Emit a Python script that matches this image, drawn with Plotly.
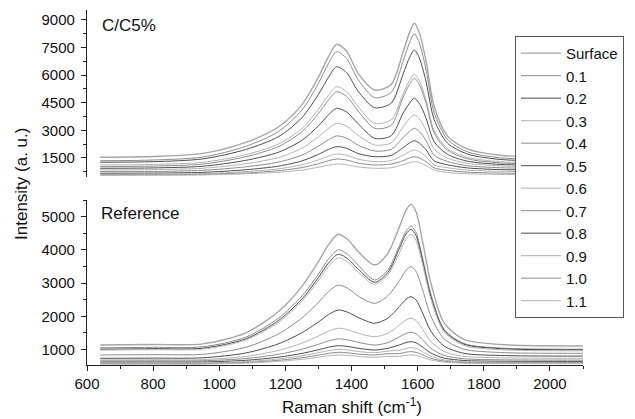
import plotly.graph_objects as go

# ---------------- data ----------------
labels = ["Surface", "0.1", "0.2", "0.3", "0.4", "0.5", "0.6", "0.7", "0.8", "0.9", "1.0", "1.1"]
colors = ["#a6a6a6", "#8c8c8c", "#4d4d4d", "#b3b3b3", "#8c8c8c", "#4d4d4d",
          "#b3b3b3", "#8c8c8c", "#4d4d4d", "#b3b3b3", "#8c8c8c", "#b3b3b3"]

# C/C5% panel (Raman shift, cm-1)
x_c5 = [640, 800, 950, 1080, 1180, 1250, 1300, 1330, 1355, 1385, 1420, 1470, 1520,
        1555, 1575, 1590, 1605, 1625, 1650, 1690, 1750, 1850, 2100]
c5_surface = [1540, 1580, 1750, 2350, 3200, 4400, 5900, 7000, 7680, 7300, 6100, 5195, 5500, 7200, 8300, 8820, 8300, 6800, 4300, 2700, 2000, 1650, 1540]
c5_01 = [1350, 1390, 1550, 2130, 2950, 4110, 5560, 6620, 7280, 6910, 5760, 4780, 5070, 6700, 7750, 8240, 7750, 6330, 3960, 2510, 1840, 1510, 1410]
c5_02 = [1270, 1300, 1450, 1960, 2670, 3690, 4960, 5880, 6460, 6140, 5130, 4235, 4480, 6010, 6940, 7370, 6940, 5680, 3580, 2310, 1720, 1420, 1330]
c5_03 = [1120, 1150, 1265, 1680, 2270, 3100, 4140, 4900, 5375, 5110, 4280, 3385, 3570, 4950, 5700, 6050, 5700, 4680, 2990, 2020, 1540, 1300, 1225]
c5_04 = [1030, 1060, 1170, 1570, 2130, 2930, 3920, 4650, 5100, 4850, 4050, 3110, 3280, 4760, 5490, 5830, 5490, 4500, 2850, 1930, 1460, 1230, 1155]
c5_05 = [940, 960, 1050, 1370, 1820, 2460, 3250, 3840, 4200, 4000, 3360, 2570, 2710, 3900, 4470, 4745, 4470, 3690, 2380, 1700, 1330, 1150, 1080]
c5_06 = [850, 870, 940, 1185, 1530, 2030, 2650, 3100, 3385, 3230, 2730, 2205, 2320, 3170, 3630, 3840, 3630, 3010, 1980, 1500, 1210, 1070, 1010]
c5_07 = [760, 770, 830, 1020, 1280, 1660, 2140, 2490, 2700, 2580, 2200, 1880, 1970, 2590, 2940, 3110, 2940, 2460, 1650, 1310, 1080, 970, 920]
c5_08 = [670, 680, 720, 860, 1060, 1340, 1700, 1960, 2115, 2030, 1740, 1570, 1640, 2050, 2310, 2440, 2310, 1950, 1340, 1130, 960, 870, 830]
c5_09 = [615, 620, 650, 760, 910, 1130, 1400, 1600, 1720, 1650, 1440, 1300, 1360, 1640, 1840, 1935, 1840, 1570, 1120, 970, 840, 780, 740]
c5_10 = [580, 590, 610, 690, 810, 980, 1190, 1350, 1445, 1390, 1220, 1120, 1170, 1350, 1500, 1570, 1500, 1300, 960, 830, 730, 680, 650]
c5_11 = [560, 565, 580, 640, 725, 845, 1000, 1105, 1175, 1135, 1015, 940, 970, 1135, 1250, 1300, 1250, 1095, 840, 715, 645, 610, 590]
c5_series = [c5_surface, c5_01, c5_02, c5_03, c5_04, c5_05, c5_06, c5_07, c5_08, c5_09, c5_10, c5_11]

# Reference panel
x_ref = [640, 800, 950, 1080, 1180, 1250, 1300, 1330, 1360, 1390, 1420, 1470, 1510,
         1545, 1565, 1580, 1595, 1615, 1640, 1680, 1740, 1850, 2100]
ref_surface = [1135, 1150, 1170, 1500, 2150, 2900, 3650, 4150, 4470, 4300, 3950, 3545, 3900, 4700, 5200, 5370, 5150, 4250, 3000, 1800, 1305, 1150, 1105]
ref_01 = [1050, 1065, 1080, 1370, 1950, 2610, 3270, 3720, 4000, 3850, 3540, 3095, 3400, 4140, 4570, 4720, 4530, 3750, 2670, 1610, 1180, 1045, 1010]
ref_02 = [1010, 1025, 1040, 1320, 1880, 2520, 3170, 3600, 3870, 3720, 3420, 3025, 3320, 4050, 4480, 4620, 4430, 3670, 2600, 1580, 1160, 1025, 990]
ref_03 = [980, 995, 1010, 1285, 1825, 2455, 3080, 3500, 3765, 3625, 3330, 2965, 3255, 3920, 4330, 4470, 4290, 3550, 2515, 1530, 1125, 995, 960]
ref_04 = [835, 845, 855, 1065, 1475, 1950, 2420, 2740, 2940, 2835, 2610, 2390, 2620, 3075, 3390, 3495, 3355, 2795, 2005, 1320, 1010, 910, 885]
ref_05 = [735, 740, 750, 895, 1175, 1505, 1830, 2050, 2190, 2115, 1965, 1790, 1945, 2295, 2515, 2590, 2495, 2100, 1550, 1105, 885, 820, 800]
ref_06 = [685, 690, 695, 790, 975, 1190, 1405, 1550, 1640, 1590, 1490, 1385, 1490, 1740, 1890, 1940, 1875, 1610, 1240, 940, 795, 750, 735]
ref_07 = [655, 658, 662, 727, 857, 1007, 1156, 1256, 1320, 1286, 1216, 1135, 1206, 1383, 1485, 1520, 1475, 1292, 1036, 822, 721, 689, 680]
ref_08 = [620, 622, 625, 674, 770, 882, 993, 1067, 1115, 1090, 1038, 985, 1039, 1138, 1210, 1235, 1203, 1073, 891, 741, 669, 646, 640]
ref_09 = [590, 592, 594, 635, 716, 810, 903, 965, 1005, 984, 940, 905, 951, 982, 1036, 1055, 1031, 932, 795, 686, 632, 615, 610]
ref_10 = [570, 572, 574, 608, 675, 753, 830, 882, 915, 897, 861, 835, 874, 877, 920, 935, 916, 839, 731, 650, 607, 594, 590]
ref_11 = [560, 561, 563, 590, 644, 705, 767, 809, 835, 821, 792, 765, 795, 792, 824, 835, 821, 762, 681, 620, 588, 578, 575]
ref_series = [ref_surface, ref_01, ref_02, ref_03, ref_04, ref_05, ref_06, ref_07, ref_08, ref_09, ref_10, ref_11]

x_ticks = [600, 800, 1000, 1200, 1400, 1600, 1800, 2000]
c5_ticks = [1500, 3000, 4500, 6000, 7500, 9000]
ref_ticks = [1000, 2000, 3000, 4000, 5000]

# ---------------- figure ----------------
FONT = "Liberation Sans, Arial, sans-serif"
fig = go.Figure()

for i, (name, col) in enumerate(zip(labels, colors)):
    w = 1.4 if i == 0 else 1.0
    fig.add_trace(go.Scatter(x=x_c5, y=c5_series[i], mode="lines", name=name,
                             legendgroup=name, showlegend=True,
                             line=dict(color=col, width=w, shape="spline", smoothing=0.8),
                             xaxis="x2", yaxis="y2"))
    fig.add_trace(go.Scatter(x=x_ref, y=ref_series[i], mode="lines", name=name,
                             legendgroup=name, showlegend=False,
                             line=dict(color=col, width=w, shape="spline", smoothing=0.8),
                             xaxis="x", yaxis="y"))

axis_common = dict(showgrid=False, zeroline=False, showline=True, linecolor="#222222",
                   linewidth=1.3, ticks="outside", ticklen=5, tickwidth=1.3,
                   tickcolor="#222222", tickfont=dict(family=FONT, size=15, color="#111111"))

# page body has an 8px default margin: figure is sized/offset to compensate
fig.update_layout(
    width=627, height=411,
    margin=dict(l=79, r=52, t=2, b=54, autoexpand=False),
    paper_bgcolor="white", plot_bgcolor="white",
    font=dict(family=FONT, color="#111111"),
    xaxis=dict(domain=[0, 1], anchor="y", range=[600, 2100], tickvals=x_ticks,
               minor=dict(dtick=100, tick0=600, ticklen=3, ticks="outside", tickcolor="#222222"),
               **axis_common),
    yaxis=dict(domain=[0, 0.4648], anchor="x", range=[533, 5503], tickvals=ref_ticks,
               ticklabelstandoff=3,
               minor=dict(dtick=500, tick0=0, ticklen=3, ticks="outside", tickcolor="#222222"),
               **axis_common),
    xaxis2=dict(domain=[0, 1], anchor="y2", matches="x", visible=False),
    yaxis2=dict(domain=[0.5296, 1], anchor="x2", range=[467, 9543], tickvals=c5_ticks,
                ticklabelstandoff=3,
                minor=dict(dtick=750, tick0=0, ticklen=3, ticks="outside", tickcolor="#222222"),
                **axis_common),
    legend=dict(x=0.8629, y=0.927, xanchor="left", yanchor="top",
                bgcolor="white", bordercolor="#555555", borderwidth=1,
                font=dict(family=FONT, size=15, color="#111111"),
                itemwidth=40, tracegroupgap=0),
    showlegend=True,
    annotations=[
        dict(text="C/C5%", x=0.0262, y=0.955, xref="paper", yref="paper",
             xanchor="left", yanchor="middle", showarrow=False,
             font=dict(family=FONT, size=17, color="#111111")),
        dict(text="Reference", x=0.0242, y=0.4254, xref="paper", yref="paper",
             xanchor="left", yanchor="middle", showarrow=False,
             font=dict(family=FONT, size=17, color="#111111")),
        dict(text="Raman shift (cm<sup>-1</sup>)", x=0.534, y=-0.1155, xref="paper", yref="paper",
             xanchor="center", yanchor="middle", showarrow=False,
             font=dict(family=FONT, size=17, color="#111111")),
        dict(text="Intensity (a. u.)", x=-0.131, y=0.51, xref="paper", yref="paper",
             xanchor="center", yanchor="middle", showarrow=False, textangle=-90,
             font=dict(family=FONT, size=17, color="#111111")),
    ],
)

fig.write_html("out.html")
